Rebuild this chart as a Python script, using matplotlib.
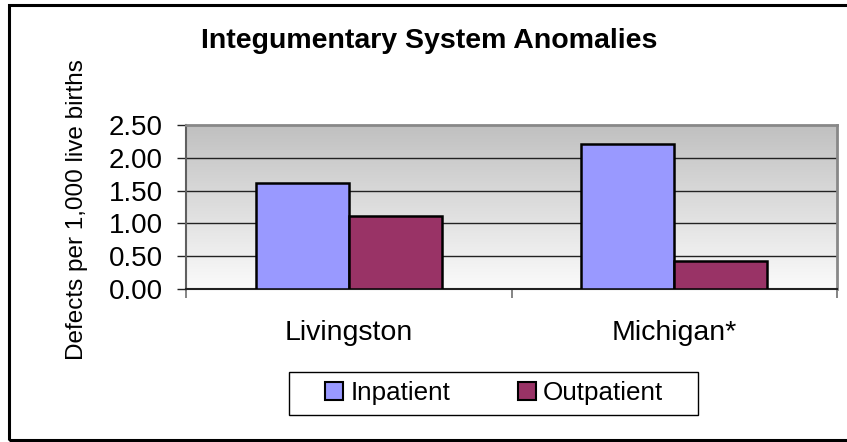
import matplotlib
matplotlib.use("Agg")
import matplotlib.pyplot as plt
import numpy as np
from matplotlib.patches import Rectangle, Patch

plt.rcParams['font.family'] = ['Liberation Sans', 'DejaVu Sans']

title = "Integumentary System Anomalies"
ylabel = "Defects per 1,000 live births"
categories = ["Livingston", "Michigan*"]
series_names = ["Inpatient", "Outpatient"]
inpatient = [1.61, 2.21]
outpatient = [1.11, 0.43]
yticks = [0.0, 0.5, 1.0, 1.5, 2.0, 2.5]
ytick_labels = ["0.00", "0.50", "1.00", "1.50", "2.00", "2.50"]
colors = ["#9999FF", "#993366"]

W, H = 847, 442
DPI = 100
fig = plt.figure(figsize=(W / DPI, H / DPI), dpi=DPI)

def fx(px):
    return px / W

def fy(py):
    return 1 - py / H

# axes placement
L, R, T, B = 186, 837, 125, 289
ax = fig.add_axes([fx(L), fy(B), fx(R) - fx(L), fy(T) - fy(B)])

# gradient background
grad = np.linspace(0, 1, 256).reshape(-1, 1)
from matplotlib.colors import LinearSegmentedColormap
cmap = LinearSegmentedColormap.from_list("g", ["#c0c0c0", "#fbfbfb"])
ax.imshow(grad, aspect='auto', cmap=cmap, extent=[0, 1, 0, 1],
          transform=ax.transAxes, zorder=0, interpolation='bilinear')

x = np.arange(len(categories))
bw = 0.286
ax.bar(x - bw / 2, inpatient, width=bw, color=colors[0], edgecolor='black',
       linewidth=1.8, zorder=3)
ax.bar(x + bw / 2, outpatient, width=bw, color=colors[1], edgecolor='black',
       linewidth=1.8, zorder=3)

ax.set_xlim(-0.5, len(categories) - 0.5)
ax.set_ylim(0, 2.5)

# grid
for yv in yticks[1:-1]:
    ax.axhline(yv, color='#222222', linewidth=1.0, zorder=1)

ax.set_yticks(yticks)
ax.set_yticklabels(ytick_labels, fontsize=20)
ax.tick_params(axis='y', length=6.5, width=1.0, color='#222222', pad=10)

ax.set_xticks(x)
ax.set_xticklabels(categories, fontsize=20.5)
ax.tick_params(axis='x', which='major', length=0, pad=22)
ax.set_xticks(np.arange(len(categories) + 1) - 0.5, minor=True)
ax.tick_params(axis='x', which='minor', length=6.5, width=1.2, color='#707070')

for s in ['top', 'right']:
    ax.spines[s].set_color('#888888')
    ax.spines[s].set_linewidth(2.0)
ax.spines['left'].set_color('#606060')
ax.spines['left'].set_linewidth(1.5)
ax.spines['bottom'].set_color('#222222')
ax.spines['bottom'].set_linewidth(1.5)

# title and ylabel
fig.text(fx(429), fy(48), title, ha='center', va='baseline',
         fontsize=20.5, fontweight='bold')
fig.text(fx(77), fy((T + B) / 2 + 3), ylabel, ha='center', va='center',
         rotation=90, fontsize=17.5)

# legend
handles = [Patch(facecolor=c, edgecolor='black', linewidth=1.5) for c in colors]
leg = fig.legend(handles, series_names, loc='center',
                 bbox_to_anchor=(fx(494), fy(393)), ncol=2, frameon=False,
                 fontsize=18.7, handlelength=0.7, handleheight=0.7,
                 handletextpad=0.27, columnspacing=2.6, borderpad=0.2)
fig.patches.append(Rectangle((fx(289), fy(415)), fx(698) - fx(289), fy(372) - fy(415),
                             transform=fig.transFigure, facecolor='none',
                             edgecolor='black', linewidth=1.0))

# outer border
fig.patches.append(Rectangle((fx(9), fy(440)), fx(900) - fx(9), fy(5) - fy(440),
                             transform=fig.transFigure, facecolor='none',
                             edgecolor='black', linewidth=2.2, clip_on=False))

fig.savefig("out.png", dpi=DPI)
